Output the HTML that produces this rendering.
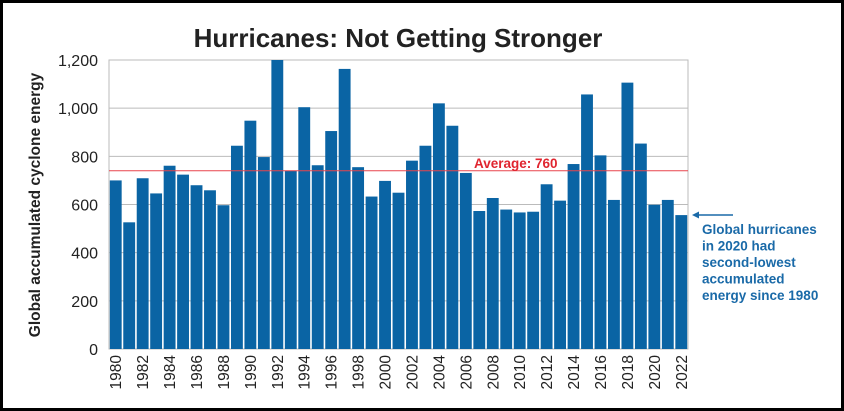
<!DOCTYPE html>
<html><head><meta charset="utf-8">
<style>
html,body{margin:0;padding:0;background:#fff;}
body{width:844px;height:411px;overflow:hidden;}
#frame{position:absolute;left:0;top:0;width:838px;height:405px;border:3px solid #000;}
svg{position:absolute;left:0;top:0;}
text{font-family:"Liberation Sans",sans-serif;}
</style></head>
<body>
<div id="frame"></div>
<svg id="chart" width="844" height="411">
  <text x="398" y="47" text-anchor="middle" font-size="26" font-weight="bold" fill="#222">Hurricanes: Not Getting Stronger</text>
  <text transform="translate(40,205) rotate(-90)" text-anchor="middle" font-size="15.5" font-weight="bold" fill="#222">Global accumulated cyclone energy</text>
  <g id="grid"></g>
  <g id="bars"></g>
  <g id="xlabels"></g>
  <g id="avg"></g>
  <line x1="694" y1="215" x2="733" y2="215" stroke="#1a6aa8" stroke-width="1.5"/>
  <polygon points="692,215 699,211.5 699,218.5" fill="#1a6aa8"/>
  <text font-size="13.5" font-weight="bold" fill="#1a6aa8">
    <tspan x="702" y="234">Global hurricanes</tspan>
    <tspan x="702" y="250.5">in 2020 had</tspan>
    <tspan x="702" y="267">second-lowest</tspan>
    <tspan x="702" y="283.5">accumulated</tspan>
    <tspan x="702" y="300">energy since 1980</tspan>
  </text>
</svg>
<script>
const years = [];
for (let y = 1980; y <= 2022; y++) years.push(y);
const aceValues = [700,526,709,646,761,724,680,659,597,844,948,797,1200,740,1004,763,905,1163,755,633,698,649,782,844,1020,927,731,573,627,579,567,570,684,616,768,1057,804,619,1106,853,599,619,556];
const yTicks = [0,200,400,600,800,1000,1200];
const yTickLabels = ["0","200","400","600","800","1,000","1,200"];
const averageLinePos = 740;
const averageLabel = "Average: 760";

const NS = "http://www.w3.org/2000/svg";
const L = 109, R = 688, T = 60, B = 349, YMAX = 1200;
const yS = v => B - (v / YMAX) * (B - T);
const slot = (R - L) / years.length;
const xS = i => L + i * slot;
function mk(tag, attrs, parent) {
  const e = document.createElementNS(NS, tag);
  for (const k in attrs) e.setAttribute(k, attrs[k]);
  parent.appendChild(e);
  return e;
}
const grid = document.getElementById('grid');
yTicks.forEach((t, i) => {
  const ln = mk('line', {x1: L, x2: R, y1: yS(t), y2: yS(t), stroke: '#bbb', 'stroke-width': 1}, grid);
  
  
  const tx = mk('text', {x: 98, y: yS(t) + 6, 'text-anchor': 'end', 'font-size': 16, fill: '#222'}, grid);
  tx.textContent = yTickLabels[i];
  
  
});
const frameR = mk('rect', {x: L, y: T, width: R - L, height: B - T, fill: 'none', stroke: '#bbb', 'stroke-width': 1}, grid);



const bars = document.getElementById('bars');
const xl = document.getElementById('xlabels');
aceValues.forEach((v, i) => {
  const r = mk('rect', {x: xS(i) + 0.8, y: yS(v), width: slot - 1.6, height: B - yS(v), fill: '#0a64a4'}, bars);
  
  
  if (i % 2 === 0) {
    const cx = xS(i) + slot / 2 + 5.5;
    const t = mk('text', {transform: `translate(${cx},355) rotate(-90)`, 'text-anchor': 'end', 'font-size': 15.5, fill: '#222'}, xl);
    t.textContent = years[i];
    
    
  }
});
const avg = document.getElementById('avg');
const al = mk('line', {x1: L, x2: R, y1: yS(averageLinePos), y2: yS(averageLinePos), stroke: '#e8454d', 'stroke-width': 1}, avg);


const at = mk('text', {x: 474, y: yS(averageLinePos) - 3, 'font-size': 13.5, 'font-weight': 'bold', fill: '#e0252f'}, avg);
at.textContent = averageLabel;


</script>
</body></html>
